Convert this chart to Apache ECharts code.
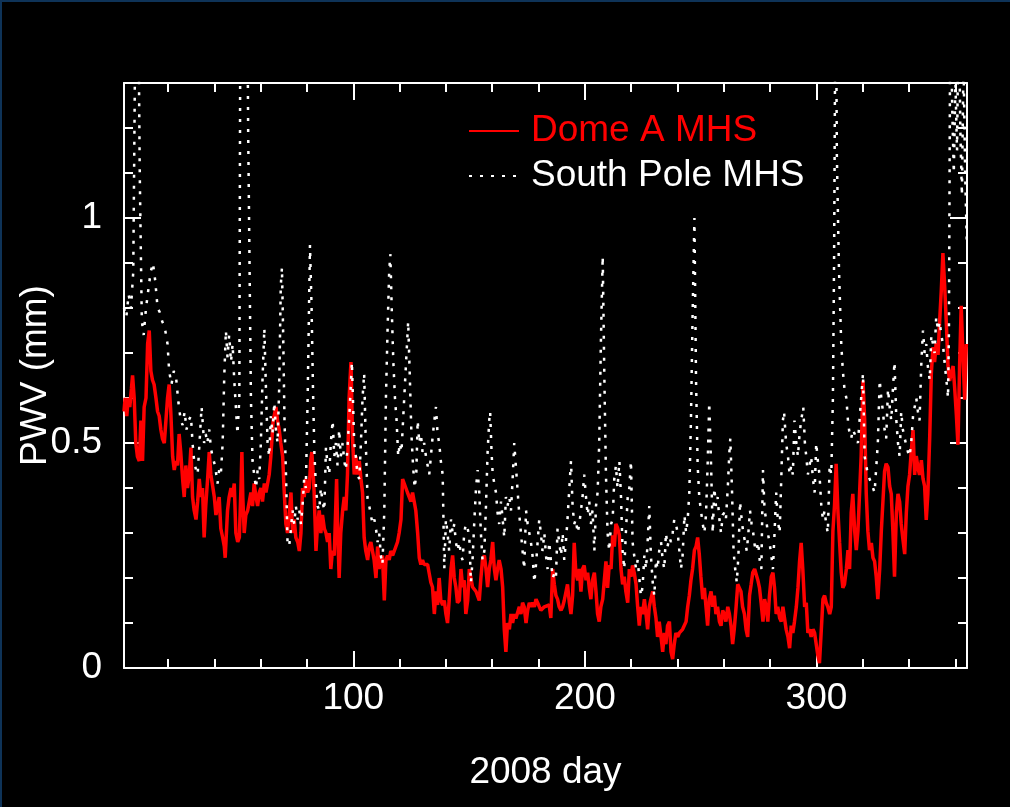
<!DOCTYPE html>
<html><head><meta charset="utf-8">
<script src="https://cdn.jsdelivr.net/npm/echarts@6/dist/echarts.min.js"></script>
<style>html,body{margin:0;padding:0;background:#000;} #c{width:1010px;height:807px;}</style>
</head><body><div id="c"></div>
<script>
// Tick positions
const majorDays = [100, 200, 300];
const minorDays = [20, 40, 60, 80, 120, 140, 160, 180, 220, 240, 260, 280, 320, 340, 360];
const majorPwv = [0.5, 1];
const labelPwv = [0, 0.5, 1];
const minorPwv = [0.1, 0.2, 0.3, 0.4, 0.6, 0.7, 0.8, 0.9, 1.1, 1.2];

// Dome A MHS PWV (mm), [day of 2008, value]
const domeA = [
[1.0,0.57],[1.5,0.6],[2.2,0.56],[2.8,0.6],[3.5,0.58],[4.2,0.62],[4.7,0.65],[5.4,0.6],[6.1,0.5],[6.8,0.47],[7.6,0.46],[8.3,0.55],[9.0,0.46],[9.7,0.58],[10.5,0.6],[11.2,0.72],[11.9,0.75],[12.6,0.66],[13.3,0.64],[14.0,0.63],[14.8,0.6],[15.5,0.57],[16.2,0.56],[16.9,0.53],[17.6,0.51],[18.4,0.5],[19.1,0.55],[19.8,0.6],[20.5,0.63],[21.2,0.57],[22.0,0.47],[22.7,0.44],[23.4,0.46],[24.1,0.45],[24.8,0.52],[25.5,0.48],[26.3,0.42],[27.0,0.38],[27.7,0.45],[28.4,0.4],[29.2,0.43],[29.9,0.49],[30.6,0.38],[31.3,0.35],[32.1,0.33],[32.8,0.37],[33.5,0.42],[34.2,0.38],[34.9,0.4],[35.6,0.29],[36.3,0.36],[37.1,0.42],[37.8,0.48],[38.5,0.43],[39.2,0.43],[40.0,0.38],[40.7,0.34],[41.4,0.36],[42.1,0.38],[42.8,0.31],[43.6,0.29],[44.3,0.27],[44.7,0.245],[45.7,0.35],[46.4,0.38],[47.2,0.4],[47.9,0.38],[48.6,0.41],[49.3,0.3],[50.1,0.28],[50.8,0.29],[51.5,0.4],[51.9,0.48],[52.3,0.38],[52.9,0.3],[53.6,0.34],[54.4,0.35],[55.1,0.37],[55.8,0.39],[56.5,0.36],[57.2,0.41],[58.0,0.38],[58.7,0.36],[59.4,0.39],[60.1,0.4],[60.8,0.37],[61.6,0.41],[62.3,0.39],[63.0,0.39],[63.7,0.43],[64.4,0.47],[65.4,0.55],[66.6,0.58],[67.3,0.55],[68.0,0.53],[68.7,0.5],[69.5,0.47],[70.2,0.39],[70.9,0.32],[71.6,0.3],[72.3,0.34],[73.1,0.39],[73.8,0.3],[74.5,0.33],[75.2,0.29],[76.0,0.28],[76.7,0.26],[77.4,0.3],[78.1,0.4],[78.8,0.38],[79.5,0.42],[80.3,0.39],[81.0,0.4],[81.6,0.46],[82.1,0.48],[82.6,0.44],[83.1,0.39],[83.9,0.26],[84.6,0.32],[85.3,0.35],[86.0,0.3],[86.7,0.34],[87.5,0.31],[88.2,0.3],[88.9,0.28],
[89.6,0.3],[90.3,0.22],[91.0,0.26],[91.8,0.25],[92.8,0.42],[93.3,0.3],[93.9,0.2],[94.6,0.3],[95.4,0.35],[96.1,0.38],[96.8,0.35],[97.5,0.43],[98.2,0.6],[99.0,0.68],[99.7,0.51],[100.4,0.43],[101.1,0.47],[101.8,0.43],[102.6,0.46],[103.3,0.42],[104.0,0.39],[104.7,0.29],[105.4,0.26],[106.2,0.24],[106.9,0.27],[107.6,0.28],[108.3,0.26],[109.0,0.24],[109.8,0.2],[110.5,0.27],[111.2,0.22],[111.9,0.24],[112.6,0.25],[113.4,0.15],[114.1,0.24],[114.8,0.25],[115.5,0.24],[116.2,0.26],[117.0,0.25],[117.7,0.26],[118.4,0.27],[119.1,0.28],[119.8,0.3],[120.6,0.33],[121.3,0.42],[122.0,0.41],[122.7,0.4],[123.4,0.39],[124.2,0.39],[124.9,0.37],[125.6,0.39],[126.3,0.37],[127.0,0.35],[127.8,0.3],[128.5,0.245],[129.2,0.23],[129.9,0.24],[130.6,0.23],[131.4,0.23],[132.1,0.23],[132.8,0.21],[133.5,0.19],[134.2,0.18],[135.0,0.12],[135.7,0.17],[136.4,0.14],[137.1,0.2],[137.8,0.15],[138.6,0.14],[139.3,0.15],[140.0,0.12],[140.7,0.1],[141.4,0.15],[142.2,0.22],[142.9,0.25],[143.6,0.2],[144.3,0.18],[145.0,0.145],[145.8,0.15],[146.5,0.22],[147.2,0.18],[147.9,0.195],[148.6,0.12],[149.4,0.15],[150.1,0.22],[150.8,0.2],[151.5,0.18],[153.0,0.17],[154.4,0.15],[155.1,0.2],[155.8,0.24],[156.6,0.25],[157.3,0.22],[158.0,0.18],[158.7,0.22],[159.4,0.24],[160.2,0.28],[160.9,0.22],[161.6,0.195],[162.3,0.22],[163.0,0.24],[163.8,0.22],[164.5,0.18],[165.2,0.086],[165.9,0.036],[166.6,0.1],[167.4,0.086],[168.1,0.12],[168.8,0.1],[169.5,0.12],[170.2,0.11],[171.7,0.136],[172.4,0.12],[173.1,0.145],[173.8,0.136],[174.6,0.1],[175.3,0.128],[176.0,0.145],[176.7,0.136],[177.4,0.145],[178.2,0.136],[178.9,0.153],[179.6,0.145],[181.0,0.128],[182.5,0.136],
[183.2,0.136],[184.6,0.14],[185.3,0.111],[186.1,0.22],[186.8,0.186],[187.5,0.161],[188.2,0.153],[188.9,0.136],[189.7,0.128],[190.4,0.136],[191.1,0.15],[191.8,0.153],[192.5,0.186],[193.3,0.145],[194.0,0.12],[194.7,0.161],[195.4,0.278],[196.1,0.212],[196.9,0.195],[197.6,0.22],[198.3,0.17],[199.0,0.22],[199.7,0.228],[200.5,0.195],[201.2,0.212],[201.9,0.178],[202.6,0.153],[203.3,0.195],[204.1,0.212],[204.8,0.17],[205.5,0.12],[206.2,0.103],[206.9,0.136],[207.7,0.153],[208.4,0.195],[209.1,0.237],[209.8,0.178],[210.5,0.228],[211.3,0.22],[212.0,0.295],[212.7,0.27],[213.4,0.32],[214.1,0.312],[214.9,0.295],[215.6,0.22],[216.3,0.186],[217.0,0.203],[217.7,0.17],[218.5,0.145],[219.2,0.22],[219.9,0.203],[220.6,0.228],[221.3,0.212],[222.1,0.186],[222.8,0.136],[223.5,0.094],[224.2,0.136],[224.9,0.12],[225.7,0.153],[226.4,0.12],[227.1,0.086],[227.8,0.136],[228.5,0.153],[229.3,0.17],[230.0,0.136],[230.7,0.111],[231.4,0.069],[232.1,0.103],[232.9,0.069],[233.6,0.036],[234.3,0.078],[235.0,0.053],[235.7,0.094],[236.5,0.103],[237.2,0.036],[237.9,0.02],[238.6,0.053],[239.3,0.078],[240.1,0.069],[240.8,0.078],[242.2,0.086],[243.7,0.103],[244.4,0.136],[245.1,0.161],[245.8,0.195],[246.5,0.22],[247.3,0.262],[248.0,0.27],[248.7,0.29],[249.4,0.253],[250.1,0.203],[250.9,0.153],[251.6,0.178],[252.3,0.136],[253.0,0.094],[253.7,0.153],[254.5,0.17],[255.2,0.136],[255.9,0.161],[256.6,0.12],[257.3,0.136],[258.1,0.103],[258.8,0.094],[259.5,0.128],[260.2,0.12],[260.9,0.103],[261.7,0.136],[262.4,0.12],[263.1,0.094],[263.8,0.053],[264.5,0.086],[265.3,0.136],[266.0,0.186],[266.7,0.178],[267.4,0.17],[268.1,0.136],[268.9,0.12],[269.6,0.086],[270.3,0.069],
[271.1,0.161],[271.8,0.186],[272.5,0.212],[273.3,0.22],[274.0,0.22],[274.7,0.195],[275.4,0.178],[276.1,0.145],[276.9,0.103],[277.6,0.153],[278.3,0.136],[279.0,0.103],[279.7,0.161],[280.5,0.203],[281.2,0.212],[281.9,0.178],[282.6,0.12],[283.3,0.136],[284.1,0.111],[284.8,0.103],[285.5,0.136],[286.2,0.111],[286.9,0.086],[287.7,0.069],[288.4,0.044],[289.1,0.094],[289.8,0.078],[290.5,0.103],[291.3,0.136],[292.0,0.178],[292.7,0.237],[293.4,0.278],[294.1,0.22],[294.9,0.136],[295.6,0.145],[296.3,0.078],[297.0,0.086],[297.7,0.069],[298.5,0.086],[299.2,0.078],[299.9,0.053],[300.6,0.028],[301.3,0.011],[302.1,0.086],[302.8,0.153],[303.5,0.161],[304.2,0.145],[304.9,0.136],[305.7,0.12],[306.4,0.136],[307.1,0.304],[307.8,0.362],[308.5,0.454],[309.3,0.345],[310.0,0.278],[310.7,0.212],[311.4,0.178],[312.1,0.186],[312.9,0.22],[313.6,0.262],[314.3,0.22],[315.0,0.345],[315.7,0.387],[316.5,0.304],[317.2,0.262],[317.9,0.304],[318.6,0.387],[319.3,0.471],[320.1,0.638],[320.8,0.554],[321.5,0.387],[322.2,0.304],[322.9,0.262],[323.7,0.278],[324.4,0.245],[325.1,0.237],[325.8,0.203],[326.5,0.153],[327.3,0.22],[328.0,0.304],[328.7,0.37],[329.4,0.437],[330.1,0.454],[330.9,0.446],[331.6,0.404],[332.3,0.387],[333.0,0.304],[333.7,0.203],[334.5,0.345],[335.2,0.387],[335.9,0.37],[336.6,0.32],[337.3,0.287],[338.1,0.253],[338.8,0.345],[339.5,0.404],[340.2,0.429],[340.9,0.479],[341.7,0.529],[342.4,0.429],[343.1,0.471],[343.8,0.446],[344.5,0.429],[345.3,0.462],[346.0,0.421],[346.7,0.404],[347.4,0.329],[348.1,0.387],[348.9,0.513],[349.6,0.655],[350.3,0.713],[351.0,0.68],[351.7,0.722],[352.5,0.696],[353.2,0.772],[353.9,0.839],[354.6,0.922],[355.3,0.855],[356.1,0.763],[356.8,0.671],[357.5,0.638],[358.2,0.655],[359.0,0.671],[359.7,0.621],[360.4,0.563],[361.1,0.496],[361.8,0.671],[362.5,0.805],[363.2,0.705],[364.0,0.596],[364.7,0.72]
];

// South Pole MHS PWV (mm), [day of 2008, value]
const southPole = [
[1,0.8],[2,0.78],[3,0.83],[4,0.8],[5,0.88],[6,1.5],[7,1.6],[7.8,1.1],[8.7,0.77],[9.5,0.74],[10.5,0.8],[11.5,0.84],[12.5,0.88],[13.5,0.9],[14.5,0.86],[15.5,0.8],[16.5,0.79],[17.5,0.77],[18.5,0.76],[19.8,0.72],[20.5,0.66],[21.5,0.63],[22.5,0.66],[23.4,0.65],[24.5,0.59],[25.5,0.55],[26.3,0.54],[27.2,0.57],[28,0.53],[28.9,0.55],[29.9,0.56],[30.6,0.5],[31.3,0.46],[32.1,0.44],[32.8,0.43],[33.6,0.5],[34.5,0.58],[35.6,0.5],[36.3,0.52],[37,0.5],[37.8,0.53],[38.5,0.49],[39.2,0.47],[40.3,0.45],[41.4,0.41],[42.1,0.44],[42.8,0.43],[43.6,0.5],[44.3,0.65],[45,0.75],[45.7,0.69],[46.4,0.74],[47.2,0.68],[47.9,0.72],[48.6,0.64],[49.3,0.58],[50,0.52],[50.8,0.6],[51.3,1.6],[52.2,1.8],[53.1,1.5],[54,1.7],[54.6,1.2],[55.4,0.8],[55.8,0.6],[56.5,0.46],[57.2,0.43],[58,0.4],[58.7,0.44],[59.4,0.42],[60.1,0.5],[60.8,0.64],[61.6,0.755],[62.3,0.62],[63,0.5],[63.7,0.47],[64.4,0.56],[65.1,0.52],[65.9,0.59],[66.6,0.53],[67.3,0.5],[68,0.62],[68.7,0.85],[69.2,0.89],[69.7,0.75],[70.3,0.55],[71,0.42],[71.6,0.28],[72.3,0.27],[73.1,0.31],[73.8,0.35],[74.5,0.32],[75.2,0.36],[76,0.33],[76.7,0.35],[77.4,0.32],[78.1,0.36],[78.8,0.42],[79.5,0.4],[80.3,0.6],[81.3,0.94],[82,0.8],[82.6,0.62],[83.2,0.48],[83.9,0.4],[84.6,0.36],[85.3,0.35],[86,0.4],[86.7,0.37],[87.5,0.35],[88.2,0.49],[88.9,0.45],[89.6,0.43],[90.3,0.5],[91.1,0.55],[91.8,0.47],[92.5,0.5],[93.2,0.45],[93.9,0.53],[94.6,0.47],[95.4,0.5],[96.1,0.46],[96.8,0.44],[97.5,0.49],[98.5,0.58],[99.4,0.68],[100.4,0.5],[101.1,0.47],[101.8,0.43],[102.6,0.42],[103.3,0.5],[104,0.6],[104.7,0.655],[105.4,0.5],[106.2,0.37],[106.9,0.36],[107.6,0.34],[108.3,0.32],[109.1,0.33],[109.8,0.31],[110.5,0.28],[111.2,0.3],[111.9,0.25],[112.6,0.23],[113.4,0.35],[114.1,0.6],[114.8,0.75],[115.5,0.88],[116,0.92],[116.6,0.8],[117.3,0.68],[118,0.6],[118.7,0.55],[119.4,0.47],[120.1,0.5],[120.8,0.48],[121.5,0.55],[122.2,0.62],[123,0.7],[123.7,0.77],[124.4,0.65],[125.1,0.52],[125.8,0.45],[126.5,0.4],[127.2,0.43],[127.8,0.55],[128.5,0.5],[129.2,0.52],[129.9,0.48],[130.6,0.5],[131.4,0.47],[132.1,0.45],[132.8,0.43],[133.5,0.43],[134.2,0.51],[135,0.55],[135.7,0.58],[136.4,0.52],[137.1,0.5],[137.8,0.46],[138.6,0.43],[139.3,0.22],[140,0.33],[140.7,0.3],[141.4,0.26],[142.2,0.33],[142.9,0.3],[143.6,0.32],[144.3,0.28],[145,0.26],[145.8,0.28],[146.5,0.25],[147.2,0.24],[147.9,0.3],[148.6,0.32],[149.4,0.31],[150.1,0.29],[150.8,0.19],[151.5,0.24],[152.3,0.33],[153,0.4],[153.7,0.44],[154.4,0.39],[155.1,0.3],[155.8,0.24],[156.6,0.26],[157.3,0.36],[158,0.48],[158.7,0.55],[159.1,0.57],[159.7,0.48],[160.2,0.43],[160.9,0.41],[161.6,0.39],[162.3,0.345],[163,0.32],[163.8,0.37],[164.5,0.33],[165.2,0.29],[165.9,0.38],[166.6,0.36],[167.4,0.38],[168.1,0.35],[168.8,0.42],[169.5,0.5],[170.2,0.45],[171,0.39],[171.7,0.34],[172.4,0.3],[173.1,0.26],[173.8,0.22],[174.6,0.35],[175.3,0.32],[176,0.3],[176.7,0.28],[177.4,0.25],[178.2,0.19],[178.9,0.23],[179.6,0.28],[180.3,0.33],[181,0.3],[181.7,0.26],[182.5,0.3],[183.2,0.25],[183.9,0.22],[184.6,0.28],[185.3,0.24],[186.1,0.2],[186.8,0.21],[187.5,0.2],[188.2,0.31],[188.9,0.28],[189.7,0.25],[190.4,0.3],[191.1,0.24],[191.8,0.28],[192.5,0.33],[193.3,0.4],[194,0.46],[194.7,0.36],[195.4,0.32],[196.1,0.33],[196.9,0.3],[197.6,0.32],[198.3,0.35],[199,0.38],[199.7,0.43],[200.5,0.38],[201.2,0.34],[201.9,0.37],[202.6,0.32],[203.3,0.35],[204.1,0.26],[204.8,0.36],[205.5,0.39],[206.2,0.5],[206.9,0.72],[207.7,0.915],[208.4,0.65],[209.1,0.43],[209.8,0.3],[210.5,0.26],[211.3,0.32],[212,0.33],[212.7,0.42],[213.4,0.45],[214.1,0.4],[214.9,0.46],[215.6,0.38],[216.3,0.26],[217,0.22],[217.7,0.3],[218.5,0.38],[219.2,0.4],[219.9,0.46],[220.6,0.28],[221.3,0.25],[222.1,0.22],[222.8,0.24],[223.5,0.2],[224.2,0.16],[224.9,0.18],[225.7,0.25],[226.4,0.22],[227.1,0.28],[227.8,0.36],[228.5,0.25],[229.3,0.19],[230,0.16],[230.7,0.24],[231.4,0.22],[232.1,0.26],[232.9,0.28],[233.6,0.24],[234.3,0.22],[235,0.3],[235.7,0.27],[236.5,0.29],[237.2,0.28],[237.9,0.3],[238.6,0.33],[239.3,0.32],[240.1,0.3],[240.8,0.26],[241.5,0.22],[242.2,0.25],[243,0.34],[243.7,0.3],[244.4,0.33],[245.1,0.39],[245.8,0.55],[246.5,0.78],[247.3,1.0],[248,0.64],[248.7,0.45],[249.4,0.38],[250.1,0.35],[250.9,0.32],[251.6,0.3],[252.3,0.34],[253,0.45],[253.7,0.59],[254.5,0.45],[255.2,0.3],[255.9,0.4],[256.6,0.36],[257.3,0.38],[258.1,0.33],[258.8,0.3],[259.5,0.34],[260.2,0.345],[260.9,0.33],[261.7,0.4],[262.4,0.48],[262.8,0.51],[263.5,0.4],[264.2,0.26],[264.9,0.22],[265.6,0.19],[266.3,0.25],[267,0.37],[267.7,0.33],[268.4,0.3],[269.2,0.28],[269.9,0.26],[270.6,0.3],[271.3,0.35],[272,0.32],[272.7,0.3],[273.4,0.27],[274.1,0.26],[274.8,0.28],[275.5,0.24],[276.2,0.22],[276.9,0.44],[277.6,0.35],[278.3,0.33],[279,0.3],[279.7,0.28],[280.5,0.25],[281.2,0.22],[281.9,0.3],[282.6,0.39],[283.3,0.33],[284.1,0.3],[284.8,0.42],[285.5,0.55],[286,0.57],[286.9,0.5],[287.7,0.47],[288.4,0.43],[289.1,0.45],[289.8,0.43],[290.5,0.55],[291.3,0.5],[292,0.47],[292.7,0.52],[293.4,0.55],[294.3,0.58],[295,0.5],[295.6,0.47],[296.3,0.43],[297,0.45],[297.7,0.47],[298.5,0.42],[299.2,0.39],[299.9,0.5],[300.6,0.46],[301.3,0.43],[302.1,0.36],[302.8,0.33],[303.5,0.35],[304.2,0.32],[304.9,0.3],[305.7,0.45],[306.4,0.43],[307.1,0.6],[307.6,0.9],[308.3,1.6],[308.8,1.14],[309.7,0.89],[310.7,0.72],[311.4,0.66],[312.1,0.62],[312.9,0.6],[313.6,0.55],[314.3,0.52],[315,0.51],[315.7,0.53],[316.5,0.52],[317.2,0.52],[317.9,0.5],[318.6,0.55],[319.3,0.6],[320.1,0.655],[320.8,0.47],[321.5,0.45],[322.2,0.43],[322.9,0.43],[323.7,0.41],[324.4,0.4],[325.1,0.39],[325.8,0.39],[326.5,0.5],[327.3,0.64],[328,0.6],[328.7,0.57],[329.4,0.53],[330.1,0.51],[330.9,0.62],[331.6,0.58],[332.3,0.55],[333,0.62],[333.7,0.68],[334.5,0.55],[335.2,0.5],[335.9,0.47],[336.6,0.57],[337.3,0.53],[338.1,0.51],[338.8,0.51],[339.5,0.48],[340.2,0.47],[340.9,0.5],[341.7,0.56],[342.4,0.56],[343.1,0.6],[343.8,0.57],[344.5,0.55],[345.3,0.68],[346,0.75],[346.7,0.7],[347.4,0.72],[348.1,0.67],[348.9,0.64],[349.6,0.74],[350.3,0.72],[351,0.7],[351.7,0.78],[352.5,0.75],[353.2,0.77],[353.9,0.74],[354.6,0.72],[355.3,0.68],[356.1,0.64],[356.8,0.6],[357.2,0.75],[357.8,1.5],[358.6,1.25],[359.3,1.1],[360,1.3],[360.7,1.15],[361.4,1.5],[362.1,1.2],[362.8,1.05],[363.5,1.35],[364.2,1.1],[364.9,0.95]
];

const FONT = 'Liberation Sans';
const WHITE = '#ffffff';
const RED = '#ff0000';

function xAxisDef(pos, ticks, len, withLine, withLabel) {
  return {
    type: 'value', position: pos, min: 1, max: 365,
    axisLine: { show: withLine, onZero: false, lineStyle: { color: WHITE, width: 2 } },
    axisTick: { show: true, inside: true, length: len, customValues: ticks, lineStyle: { color: WHITE, width: 2 } },
    axisLabel: withLabel ? { show: true, customValues: majorDays, color: WHITE, fontSize: 37, fontFamily: FONT, margin: 12 } : { show: false },
    splitLine: { show: false }
  };
}
function yAxisDef(pos, ticks, len, withLine, withLabel) {
  return {
    type: 'value', position: pos, min: 0, max: 1.3,
    axisLine: { show: withLine, onZero: false, lineStyle: { color: WHITE, width: 2 } },
    axisTick: { show: true, inside: true, length: len, customValues: ticks, lineStyle: { color: WHITE, width: 2 } },
    axisLabel: withLabel ? { show: true, customValues: labelPwv, color: WHITE, fontSize: 37, fontFamily: FONT, margin: 22 } : { show: false },
    splitLine: { show: false }
  };
}

const xMain = xAxisDef('bottom', majorDays, 17, true, true);
xMain.name = '2008 day';
xMain.nameLocation = 'middle';
xMain.nameGap = 86;
xMain.nameMoveOverlap = false;
xMain.nameTextStyle = { color: WHITE, fontSize: 37, fontFamily: FONT };
const yMain = yAxisDef('left', majorPwv, 17, true, true);
yMain.name = 'PWV (mm)';
yMain.nameLocation = 'middle';
yMain.nameGap = 70;
yMain.nameMoveOverlap = false;
yMain.nameTextStyle = { color: WHITE, fontSize: 37, fontFamily: FONT };

const chart = echarts.init(document.getElementById('c'), null, { renderer: 'canvas' });
chart.setOption({
  backgroundColor: '#000000',
  animation: false,
  grid: { left: 124, right: 43, top: 83, bottom: 139, outerBoundsMode: 'none' },
  graphic: [
    { type: 'line', shape: { x1: 0, y1: 1, x2: 1010, y2: 1 }, style: { stroke: '#0e3358', lineWidth: 2 } },
    { type: 'line', shape: { x1: 1, y1: 0, x2: 1, y2: 807 }, style: { stroke: '#0e3358', lineWidth: 2 } }
  ],
  legend: {
    orient: 'vertical', left: 463, top: 106, itemWidth: 50, itemHeight: 14, itemGap: 5,
    selectedMode: false,
    itemStyle: { opacity: 0 },
    textStyle: { fontSize: 37, fontFamily: FONT, lineHeight: 40, padding: [0, 0, 0, 7] },
    data: [
      { name: 'Dome A MHS', textStyle: { color: RED } },
      { name: 'South Pole MHS', textStyle: { color: WHITE } }
    ]
  },
  xAxis: [
    xMain,
    xAxisDef('bottom', minorDays, 9, false, false),
    xAxisDef('top', majorDays, 17, true, false),
    xAxisDef('top', minorDays, 9, false, false)
  ],
  yAxis: [
    yMain,
    yAxisDef('left', minorPwv, 9, false, false),
    yAxisDef('right', majorPwv, 17, true, false),
    yAxisDef('right', minorPwv, 9, false, false)
  ],
  series: [
    {
      name: 'Dome A MHS', type: 'line', data: domeA, xAxisIndex: 0, yAxisIndex: 0,
      symbol: 'none', z: 2,
      lineStyle: { color: RED, width: 3.5 }, itemStyle: { color: RED }
    },
    {
      name: 'South Pole MHS', type: 'line', data: southPole, xAxisIndex: 0, yAxisIndex: 0,
      symbol: 'none', z: 3,
      lineStyle: { color: WHITE, width: 2.5, type: [3, 8] }, itemStyle: { color: WHITE }
    }
  ]
});
</script>
</body></html>
